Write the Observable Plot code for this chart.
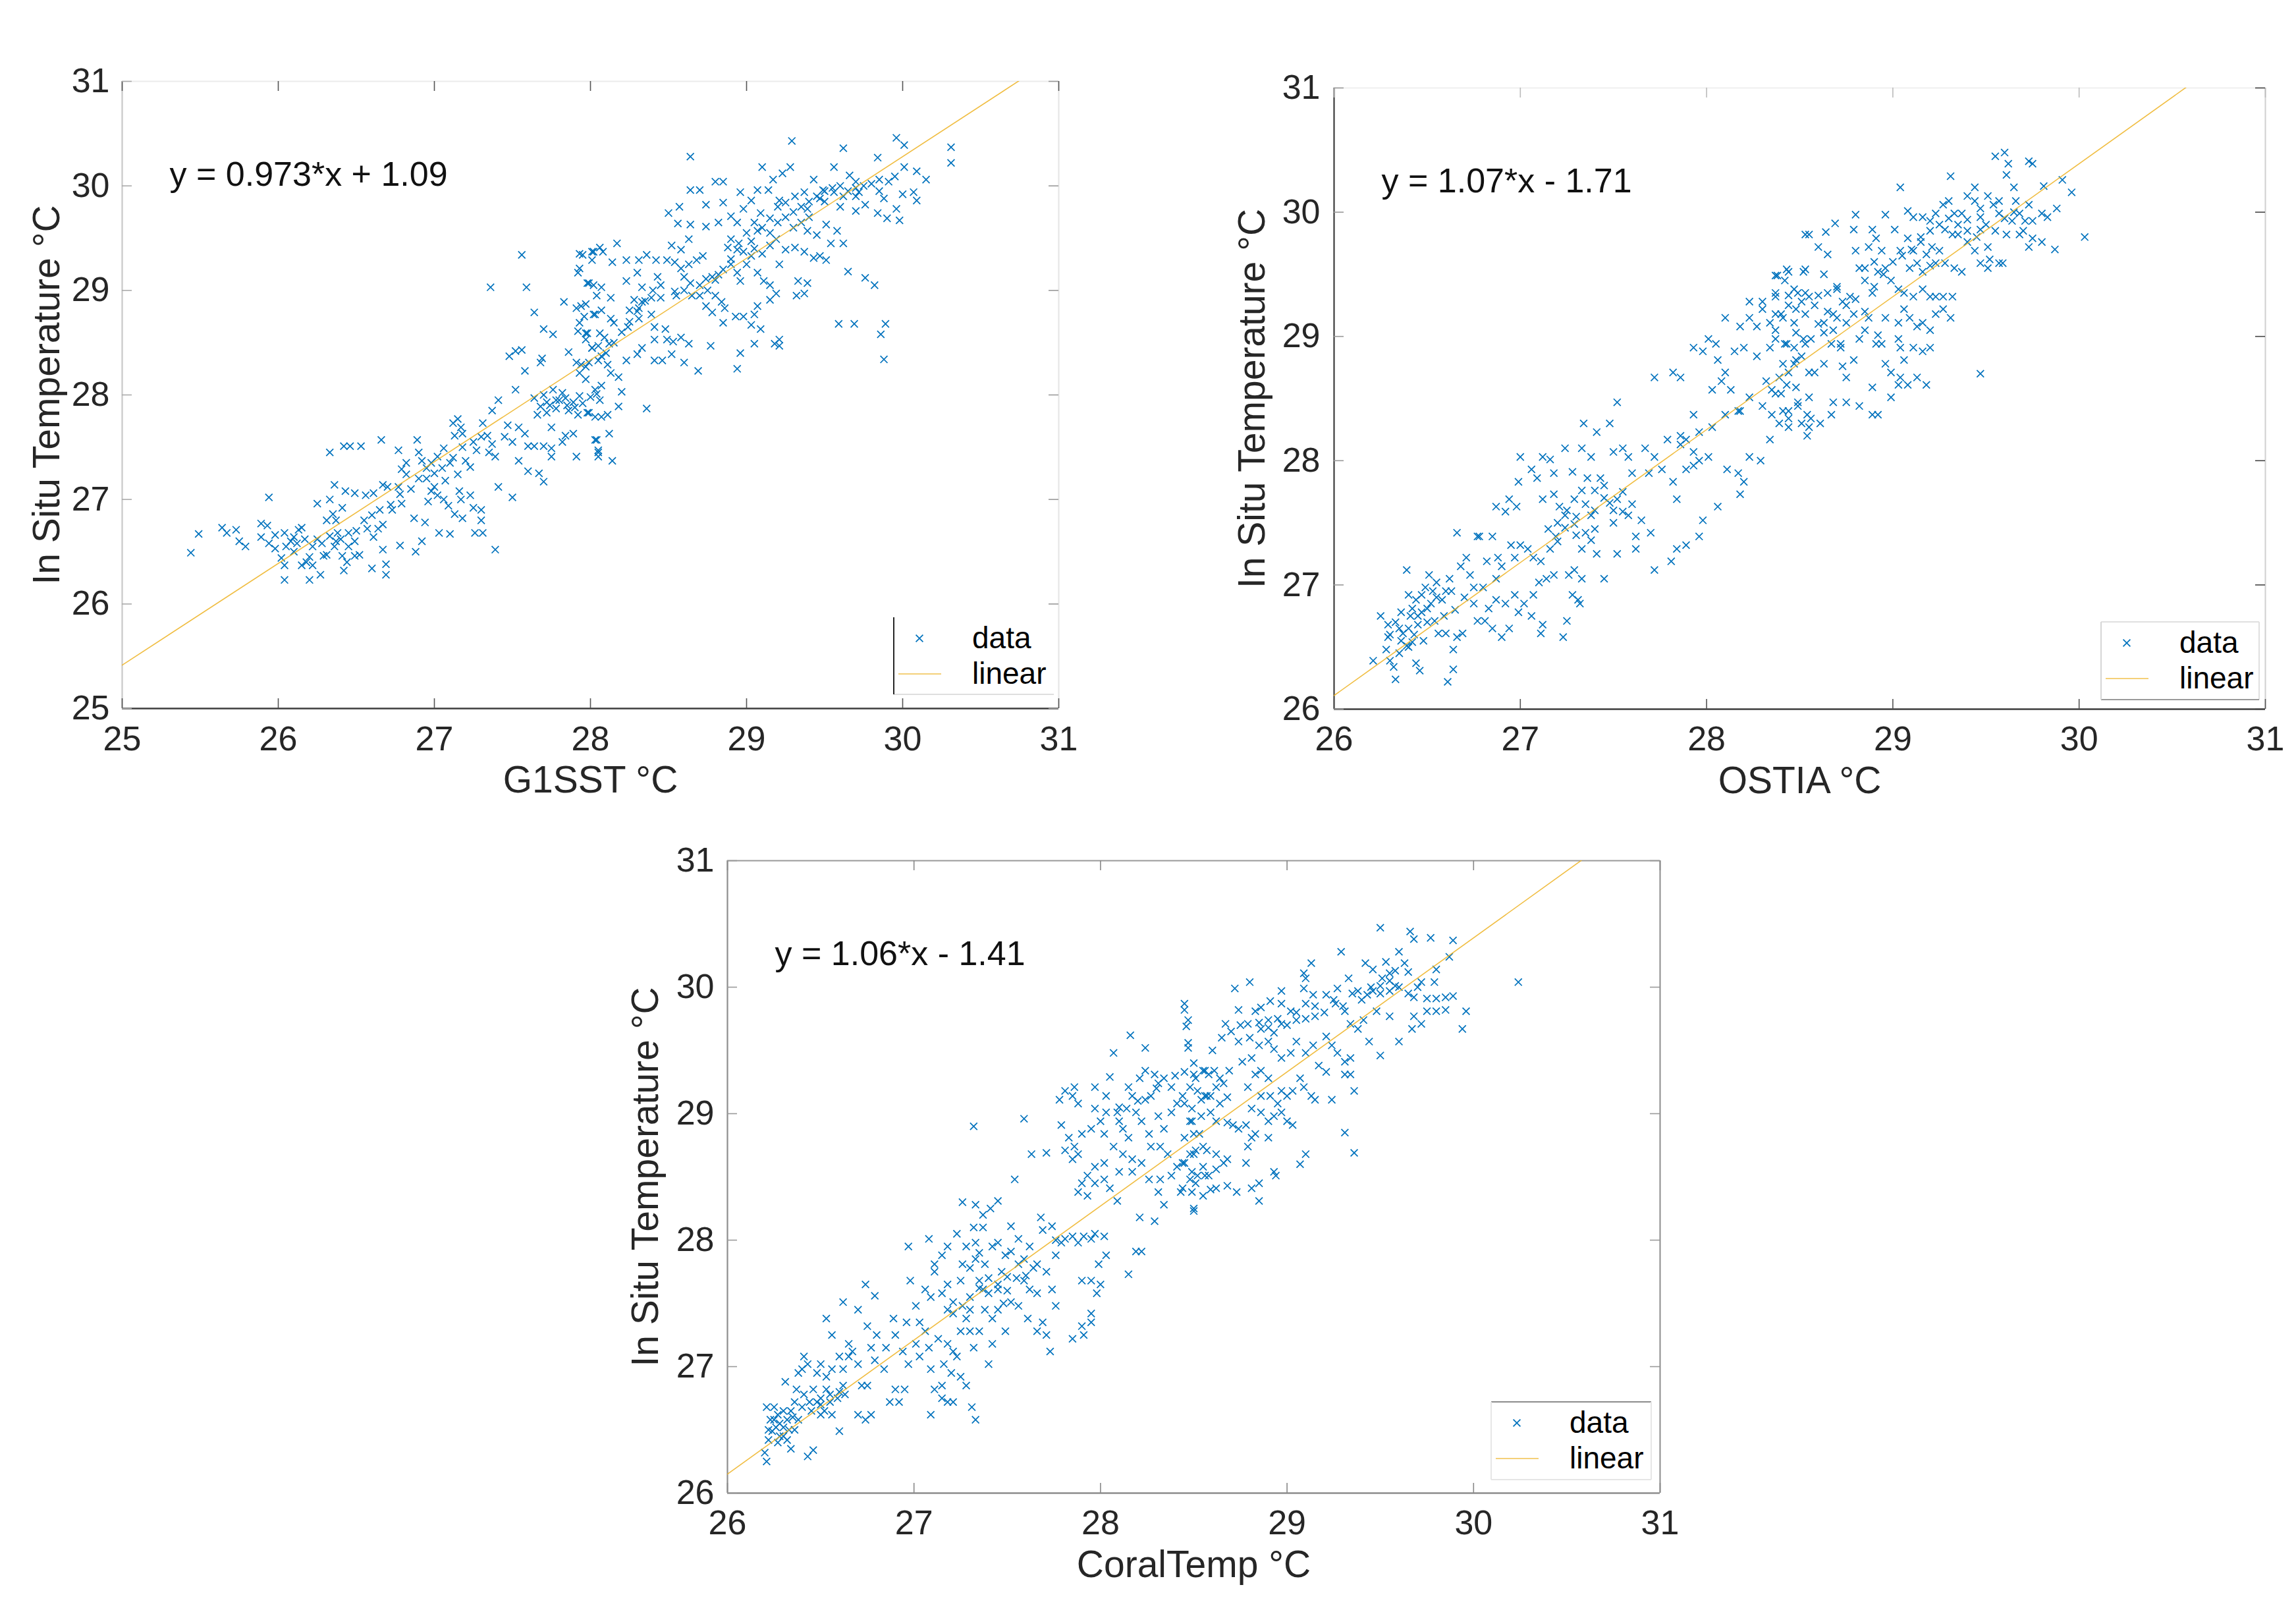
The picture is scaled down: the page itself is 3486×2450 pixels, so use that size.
<!DOCTYPE html>
<html><head><meta charset="utf-8">
<script src="https://cdn.jsdelivr.net/npm/d3@7"></script>
<script src="https://cdn.jsdelivr.net/npm/@observablehq/plot@0.6"></script>
<style>
html,body{margin:0;padding:0;background:#fff;}
#root{position:relative;width:3486px;height:2450px;overflow:hidden;background:#fff;}
.panel{position:absolute;}
.panel svg{max-width:none;display:block;}
</style></head><body><div id="root"></div>
<script>
// ---------------- data ----------------
const g1sstPoints = [
[25.44,26.49],[25.49,26.67],[25.64,26.73],[25.67,26.68],[25.73,26.71],[25.75,26.60],[25.79,26.55],[25.94,27.02],[25.89,26.77],[25.93,26.75],[25.89,26.64],[25.94,26.58],[25.98,26.66],[25.98,26.53],[26.04,26.68],[26.08,26.60],[26.10,26.64],[26.13,26.71],[26.15,26.73],[26.02,26.44],[26.04,26.37],[26.04,26.23],[26.15,26.37],[26.18,26.40],[26.22,26.37],[26.20,26.45],[26.20,26.23],[26.27,26.28],[26.29,26.46],[26.31,26.47],[26.25,26.96],[26.33,27.00],[26.36,27.14],[26.35,26.86],[26.31,26.80],[26.37,26.80],[26.41,26.92],[26.38,26.68],[26.37,26.60],[26.45,26.68],[26.49,26.60],[26.41,26.46],[26.44,26.40],[26.42,26.32],[26.49,26.46],[26.52,26.47],[26.33,27.45],[26.42,27.51],[26.46,27.51],[26.53,27.51],[26.66,27.57],[26.43,27.08],[26.49,27.06],[26.56,27.04],[26.61,27.06],[26.57,26.72],[26.64,26.72],[26.61,26.64],[26.67,26.76],[26.67,26.52],[26.60,26.34],[26.69,26.38],[26.69,26.28],[26.67,27.14],[26.70,27.12],[26.73,26.90],[26.77,27.12],[26.79,26.96],[26.78,26.56],[26.88,26.50],[26.92,26.60],[26.87,26.82],[26.94,26.78],[27.03,26.68],[27.10,26.67],[26.77,27.47],[26.82,27.35],[26.79,27.29],[26.82,27.24],[26.89,27.57],[26.90,27.45],[26.92,27.37],[26.95,27.20],[26.98,27.35],[26.98,27.08],[27.02,27.41],[27.06,27.49],[27.02,27.04],[27.06,27.00],[27.09,26.94],[27.07,27.18],[27.12,27.73],[27.15,27.77],[27.17,27.69],[27.13,27.61],[27.18,27.63],[27.15,27.24],[27.16,27.08],[27.17,27.00],[27.13,26.86],[27.18,26.82],[27.23,27.04],[27.25,26.92],[27.30,26.90],[27.30,26.80],[27.26,26.68],[27.31,26.68],[27.39,26.52],[27.20,27.37],[27.23,27.31],[27.27,27.47],[27.31,27.73],[27.34,27.61],[27.37,27.53],[27.39,27.41],[27.41,27.12],[27.50,27.02],
[27.36,29.03],[27.56,29.34],[27.59,29.03],[27.64,28.79],[27.70,28.63],[27.76,28.58],[27.48,28.37],[27.52,28.42],[27.56,28.43],[27.58,28.23],[27.69,28.35],[27.68,28.31],[27.52,28.05],[27.37,27.85],[27.41,27.95],[27.47,27.71],[27.54,27.69],[27.58,27.63],[27.60,27.51],[27.54,27.37],[27.60,27.27],[27.67,27.25],[27.70,27.17],[27.64,27.51],[27.70,27.51],[27.75,27.49],[27.75,27.41],
[27.64,27.97],[27.68,27.89],[27.72,27.93],[27.76,28.05],[27.80,27.95],[27.84,27.97],[27.89,27.93],[27.93,27.99],[27.66,27.81],[27.72,27.83],[27.78,27.87],[27.86,27.85],[27.92,27.81],[27.75,27.69],[27.84,27.61],[27.89,27.63],[27.82,27.55],[27.91,27.41],
[27.83,28.89],[27.91,28.83],[27.97,28.87],[27.93,29.21],[27.95,29.34],[28.02,29.37],[27.99,29.07],[28.03,28.77],[27.93,28.69],[27.98,28.59],[27.97,28.53],[27.86,28.41],[27.91,28.31],[27.93,28.21],[27.97,28.27],[28.01,28.45],[27.99,27.83],[28.04,27.57],[28.05,27.45],
[27.93,29.35],[28.01,29.37],[28.06,29.41],[28.08,29.37],[28.17,29.45],[28.01,29.29],[27.92,29.17],[27.98,29.07],[28.02,29.05],[28.07,29.03],[27.94,28.85],[28.04,28.95],[28.13,28.93],[27.96,28.75],[28.02,28.77],[28.07,28.81],[28.13,28.73],[28.15,28.69],[27.92,28.61],[27.97,28.59],[28.06,28.59],[28.09,28.55],[28.12,28.49],[28.01,28.45],[28.05,28.47],[27.94,28.29],[27.99,28.31],[28.05,28.33],[28.07,28.37],[28.11,28.29],[28.13,28.21],[27.97,28.15],[28.03,28.05],[28.04,28.01],[28.07,28.09],[28.06,27.95],[27.98,27.83],[28.03,27.79],[28.07,27.79],[28.11,27.81],[28.03,27.57],[28.12,27.63],[28.05,27.47],[28.05,27.41],[28.14,27.37],[28.18,28.17],[28.20,28.03],[28.18,27.89],[28.36,27.87],
[28.14,29.27],[28.23,29.29],[28.31,29.29],[28.36,29.34],[28.42,29.29],[28.49,29.29],[28.23,29.09],[28.30,29.17],[28.33,29.03],[28.43,29.13],[28.25,28.81],[28.31,28.83],[28.28,28.91],[28.33,28.89],[28.39,28.93],[28.45,28.93],[28.54,28.99],[28.39,28.77],[28.31,28.73],[28.24,28.65],[28.41,28.65],[28.48,28.63],[28.49,28.53],[28.53,28.51],[28.58,28.55],[28.63,28.49],[28.41,28.53],[28.33,28.45],[28.30,28.39],[28.23,28.33],[28.41,28.33],[28.46,28.33],[28.52,28.39],[28.60,28.31],[28.69,28.23],[28.77,28.47],[28.64,30.28],[28.64,29.96],[28.70,29.96],[28.74,29.82],[28.80,30.04],[28.85,30.04],[28.50,29.74],[28.57,29.80],[28.56,29.64],[28.64,29.63],[28.74,29.61],[28.52,29.43],[28.58,29.39],[28.63,29.49],[28.54,29.27],[28.58,29.21],[28.63,29.25],[28.60,29.13],[28.64,29.07],[28.68,29.29],[28.72,29.33],[28.74,29.11],[28.78,29.13],[28.82,29.15],[28.80,28.95],[28.84,28.89],[28.86,28.83],[28.70,28.95],[28.74,28.85],[28.78,28.79],[28.85,28.69],[28.90,29.25],[28.94,29.17],[28.96,29.09],[28.88,29.41],[28.94,29.39],[28.96,29.94],[28.85,29.84],[28.90,29.71],[28.94,29.65],[28.82,29.65],[28.90,29.49],
[29.10,30.18],[29.17,30.06],[29.23,30.12],[29.28,30.18],[29.29,30.43],[29.07,29.96],[29.14,29.96],[28.98,29.78],[29.03,29.86],[29.09,29.74],[29.15,29.69],[29.21,29.86],[29.25,29.84],[29.31,29.90],[29.37,29.94],[29.43,30.06],[29.49,29.96],[29.56,30.18],[29.62,30.36],[29.66,30.10],[29.70,30.04],[29.72,29.94],[29.76,29.82],[29.70,29.76],[29.62,29.90],[29.56,29.94],[29.47,29.88],[29.39,29.78],[29.35,29.65],[29.39,29.57],[29.45,29.53],[29.51,29.63],[29.58,29.57],[29.54,29.45],[29.62,29.45],[29.47,29.33],[29.43,29.31],[29.37,29.37],[29.31,29.41],[29.25,29.39],[29.19,29.49],[29.15,29.43],[29.07,29.57],[29.03,29.47],[28.98,29.37],[29.03,29.33],[29.07,29.17],[29.11,29.09],[29.15,29.05],[29.21,29.25],[29.19,28.97],[29.15,28.91],[29.07,28.85],[29.05,28.77],[29.03,28.67],[29.09,28.63],[28.98,28.75],[28.93,28.75],[28.96,28.40],[28.94,28.25],[29.05,28.49],[29.18,28.49],[29.21,28.53],[29.21,28.47],[29.33,29.09],[29.39,29.07],[29.37,28.97],[29.32,28.95],[29.51,29.29],[29.65,29.18],[29.76,29.12],[29.82,29.05],[29.59,28.68],[29.69,28.68],[29.89,28.68],[29.86,28.58],[29.88,28.34],[29.84,30.27],[29.96,30.46],[30.01,30.39],[30.01,30.18],[30.09,30.14],[30.15,30.06],[29.85,30.06],[29.91,30.04],[29.95,30.09],[29.88,29.88],[30.00,29.92],[30.07,29.94],[30.09,29.86],[29.84,29.74],[29.90,29.69],[29.96,29.78],[29.98,29.67],[30.31,30.37],[30.31,30.22],
[26.05,26.55],[26.10,26.50],[26.12,26.58],[26.17,26.62],[26.22,26.55],[26.25,26.62],[26.28,26.58],[26.33,26.65],[26.36,26.55],[26.40,26.62],[26.45,26.55],[26.50,26.70],[26.55,26.80],[26.60,26.85],[26.65,26.90],[26.72,26.95],[26.78,27.05],[26.85,27.10],[26.90,27.20],[26.95,27.30],[27.00,27.25],[27.05,27.30],[27.10,27.35],[27.00,27.12],[26.96,26.98],[27.12,27.40],[27.18,27.50],[27.25,27.55],[27.30,27.60],[27.35,27.45],[27.45,27.60],[27.50,27.55],
[27.70,28.00],[27.74,27.90],[27.78,27.95],[27.82,28.02],[27.85,27.90],[27.90,27.88],[27.95,27.92],[28.00,27.98],[28.10,28.40],[28.15,28.50],[28.20,28.60],[28.25,28.70],[28.30,28.80],[28.35,28.90],[28.40,29.00],[28.45,29.05],
[28.55,28.95],[28.60,29.00],[28.65,28.95],[28.70,29.05],[28.75,29.00],[28.80,29.10],[28.85,29.20],[28.90,29.30],[28.95,29.45],[29.00,29.55],[29.05,29.65],[29.10,29.60],[29.15,29.55],[29.20,29.65],[29.25,29.70],[29.30,29.75],[29.35,29.80],[29.40,29.85],[29.45,29.90],[29.50,29.95],[29.55,29.98],[29.60,30.00],[29.65,29.95],[29.70,29.98],[29.75,30.00],[29.80,30.02],[29.85,29.95],[29.50,29.85],[29.30,29.60],[29.20,29.80],[29.05,29.40],[29.00,29.25],[29.10,29.35],[29.40,29.70],[29.60,29.80],[29.70,29.90]
];

const ostiaPoints = [
[26.21,26.39],[26.25,26.75],[26.29,26.58],[26.28,26.48],[26.30,26.39],[26.32,26.34],[26.33,26.24],[26.29,26.68],[26.35,26.65],[26.37,26.61],[26.39,26.51],[26.36,26.78],[26.41,26.75],[26.42,26.81],[26.44,26.88],[26.47,26.92],[26.47,26.78],[26.45,26.68],[26.42,26.54],[26.44,26.37],[26.46,26.31],[26.39,27.12],[26.40,26.92],[26.49,26.98],[26.51,27.08],[26.53,26.95],[26.50,26.81],[26.55,27.02],[26.58,26.88],[26.59,26.75],[26.54,26.71],[26.56,26.61],[26.60,26.61],[26.61,26.22],[26.64,26.32],[26.64,26.48],[26.66,26.58],[26.69,26.61],[26.62,27.05],[26.63,26.95],[26.66,27.42],[26.68,27.15],[26.71,27.22],[26.73,27.08],[26.75,26.85],[26.77,26.71],[26.81,26.71],[26.83,26.81],[26.85,26.65],[26.87,26.88],[26.78,27.39],[26.75,26.98],[26.80,26.98],[26.82,27.19],[26.87,27.05],[26.90,27.15],[26.94,26.65],[26.90,26.58],[26.92,26.85],[26.97,26.92],[26.99,26.78],[27.02,26.85],[27.06,26.75],[27.11,26.61],[27.12,26.68],[27.07,26.92],[27.10,27.02],[27.14,27.05],[27.18,27.08],[27.23,26.58],[27.25,26.71],[27.28,26.92],[27.31,26.88],[27.32,26.85],[27.26,27.08],[27.29,27.12],[27.33,27.05],[27.04,27.29],[27.07,27.22],[27.11,27.19],[27.16,27.29],[27.19,27.39],[27.24,27.46],[27.29,27.49],[27.35,27.42],[27.38,27.36],[26.95,27.32],[27.00,27.32],[26.97,27.22],[26.88,27.22],[26.87,27.63],[26.92,27.59],[26.94,27.69],[26.98,27.63],[26.77,27.39],[26.85,27.39],
[27.00,28.03],[27.06,27.93],[27.09,27.86],[26.99,27.83],[27.12,28.03],[27.16,28.01],[27.18,27.90],[27.24,28.10],[27.28,27.91],[27.33,28.10],[27.34,28.30],[27.38,28.03],[27.41,28.23],[27.43,27.86],[27.48,28.30],[27.50,28.07],[27.52,28.47],[27.55,28.10],[27.58,28.03],[27.60,27.90],[27.67,28.10],[27.69,27.90],[27.72,28.03],[27.76,27.93],[27.79,28.17],[27.82,27.83],[27.84,27.69],[27.86,28.13],[27.89,27.93],[27.93,27.96],[27.96,28.00],[27.12,27.69],[27.18,27.73],[27.21,27.63],[27.24,27.56],[27.29,27.69],[27.33,27.76],[27.36,27.86],[27.40,27.76],[27.45,27.80],[27.48,27.66],[27.52,27.69],[27.55,27.59],[27.58,27.56],[27.62,27.39],[27.65,27.52],[27.70,27.42],[27.72,27.12],[27.81,27.19],[27.84,27.29],[27.89,27.32],[27.96,27.39],[27.98,27.52],[28.06,27.63],[27.62,27.29],[27.52,27.25],[27.45,27.05],[27.41,27.25],[27.38,27.56],[27.33,27.29],
[27.72,28.67],[27.82,28.71],[27.86,28.67],[27.93,28.91],[27.98,28.88],[28.01,28.98],[28.05,28.94],[28.10,29.15],[28.06,28.81],[28.10,28.71],[28.15,28.88],[28.03,28.57],[28.08,28.64],[28.13,28.57],[28.17,28.40],[28.10,28.37],[28.03,28.27],[27.93,28.37],[27.96,28.23],[27.89,28.17],[27.86,28.20],[27.93,28.07],[28.01,28.03],[28.11,27.93],[28.17,27.90],[28.20,27.83],[28.18,27.73],[28.23,28.03],[28.29,28.00],[28.34,28.17],[28.39,28.30],[28.18,28.40],[28.23,28.51],[28.30,28.44],[28.32,28.64],[28.35,28.57],[28.40,28.54],[28.44,28.40],[28.35,28.37],[28.39,28.67],[28.44,28.71],[28.47,28.78],[28.51,28.84],[28.18,29.08],[28.23,29.15],[28.27,29.08],[28.30,29.22],[28.34,29.11],[28.37,29.05],[28.40,29.18],[28.44,29.25],[28.47,29.11],[28.51,29.28],[28.53,29.35],[28.20,28.91],[28.27,28.84],[28.34,28.91],[28.42,28.94],[28.47,28.91],[28.52,28.98],[28.23,29.28],[28.30,29.28],[28.37,29.35],[28.42,29.45],[28.47,29.38],[28.38,29.49],[28.44,29.52],[28.53,29.82],[28.52,29.52],[28.49,28.47],[28.54,28.37],[28.51,28.30],[28.54,28.20],[28.44,28.27],
[28.37,29.49],[28.43,29.54],[28.53,29.54],[28.55,29.82],[28.60,29.72],[28.64,29.84],[28.69,29.91],[28.65,29.66],[28.63,29.50],[28.37,29.32],[28.44,29.33],[28.49,29.35],[28.55,29.32],[28.60,29.33],[28.65,29.35],[28.70,29.38],[28.37,29.18],[28.41,29.15],[28.48,29.22],[28.53,29.18],[28.58,29.25],[28.63,29.11],[28.68,29.18],[28.73,29.28],[28.77,29.32],[28.37,28.98],[28.43,28.94],[28.48,29.03],[28.53,28.94],[28.56,28.98],[28.63,29.03],[28.68,29.05],[28.72,28.94],[28.75,29.11],[28.79,29.18],[28.41,28.78],[28.48,28.81],[28.55,28.71],[28.58,28.71],[28.63,28.78],[28.67,28.94],[28.72,28.91],[28.73,28.76],[28.75,28.67],[28.79,28.81],[28.82,28.98],[28.85,29.05],[28.87,29.15],[28.91,28.94],[28.92,29.01],[28.94,28.94],[28.96,29.15],[28.89,29.35],[28.85,29.45],[28.82,29.55],[28.80,29.69],[28.87,29.72],[28.91,29.79],[28.94,29.69],[28.96,29.55],[28.99,29.45],[29.03,29.38],[28.92,29.52],[28.79,29.86],[28.80,29.98],[28.89,29.86],[28.96,29.98],[29.01,29.86],[29.04,29.69],[28.37,28.54],[28.43,28.61],[28.48,28.59],[28.49,28.44],[28.55,28.51],[28.56,28.34],[28.61,28.30],[28.55,28.27],[28.67,28.37],[28.68,28.47],[28.75,28.47],[28.82,28.44],[28.89,28.37],[28.92,28.37],[28.89,28.59],[28.96,28.78],[28.99,28.71],[28.99,28.51],[29.03,28.61],[29.04,28.67],[29.08,28.61],[29.13,28.67],[29.18,28.61],[28.44,28.34],[28.41,28.40],
[29.04,30.20],[29.08,30.01],[29.11,29.96],[29.16,29.96],[29.20,29.93],[29.23,29.99],[29.27,30.06],[29.30,30.09],[29.33,29.99],[29.37,29.99],[29.40,29.94],[29.44,30.20],[29.47,30.03],[29.51,30.13],[29.54,30.06],[29.57,29.99],[29.31,30.29],[29.40,30.13],[29.08,29.79],[29.11,29.69],[29.15,29.76],[29.18,29.66],[29.21,29.72],[29.25,29.69],[29.28,29.86],[29.32,29.82],[29.35,29.82],[29.40,29.76],[29.44,29.69],[29.47,29.86],[29.51,29.72],[29.09,29.55],[29.13,29.59],[29.16,29.52],[29.20,29.57],[29.23,29.59],[29.28,29.59],[29.33,29.55],[29.37,29.52],[29.47,29.59],[29.52,29.62],[29.57,29.59],[29.06,29.35],[29.11,29.32],[29.16,29.38],[29.20,29.32],[29.23,29.32],[29.27,29.32],[29.32,29.32],[29.06,29.22],[29.09,29.15],[29.13,29.08],[29.16,29.11],[29.20,29.05],[29.23,29.18],[29.27,29.22],[29.31,29.15],[29.20,28.91],[29.11,28.91],[29.16,28.88],[29.03,29.11],[29.03,28.98],[29.04,28.91],[29.06,28.81],[29.47,28.70],
[29.55,30.45],[29.60,30.48],[29.62,30.39],[29.61,30.30],[29.65,30.20],[29.73,30.41],[29.75,30.39],[29.81,30.21],[29.91,30.26],[29.96,30.16],[29.88,30.03],[29.83,29.96],[29.80,29.99],[29.73,30.06],[29.68,29.99],[29.64,29.93],[29.61,29.82],[29.68,29.82],[29.73,29.72],[29.75,29.79],[29.80,29.76],[29.87,29.70],[30.03,29.80],[29.59,29.59],[29.51,29.55],[29.44,30.09],[29.47,29.96],[29.57,30.09],[29.71,29.93],[29.66,30.09],[29.75,29.93],
[26.30,26.60],[26.33,26.70],[26.36,26.55],[26.40,26.65],[26.43,26.60],[26.45,26.75],[26.50,26.70],[26.52,26.85],[26.55,26.90],[26.60,26.95],[26.65,26.80],[26.70,26.90],[26.35,26.45],[26.40,26.50],[26.48,26.55],
[27.20,27.50],[27.25,27.60],[27.30,27.55],[27.35,27.65],[27.40,27.60],[27.45,27.70],[27.50,27.60],[27.55,27.75],[27.60,27.65],[27.30,27.40],[27.40,27.45],[27.50,27.50],[27.15,27.45],[27.20,27.35],
[28.60,29.10],[28.65,29.20],[28.70,29.15],[28.75,29.25],[28.80,29.30],[28.85,29.20],[28.90,29.40],[28.95,29.50],[29.00,29.60],[29.05,29.65],[29.10,29.70],[29.15,29.80],[29.20,29.85],[29.25,29.90],[29.30,29.95],[29.35,29.90],[29.40,29.85],[29.45,29.80],[29.50,29.90],[29.55,29.85],[29.60,29.95],[29.65,30.00],[29.70,29.85],[28.90,29.60],[28.70,29.40],[28.85,29.55]
];

const coralTempPoints = [
[26.21,26.25],[26.20,26.32],[26.22,26.42],[26.24,26.49],[26.23,26.58],[26.21,26.68],[26.25,26.68],[26.27,26.62],[26.26,26.52],[26.28,26.45],[26.30,26.52],[26.32,26.42],[26.34,26.35],[26.32,26.58],[26.34,26.65],[26.36,26.72],[26.38,26.58],[26.37,26.82],[26.38,26.95],[26.40,26.98],[26.43,27.02],[26.41,27.08],[26.31,26.88],[26.43,26.29],[26.46,26.34],[26.41,26.78],[26.44,26.72],[26.46,26.82],[26.48,26.72],[26.50,26.75],[26.53,26.82],[26.55,26.72],[26.50,26.62],[26.52,26.65],[26.56,26.62],[26.60,26.49],[26.59,26.75],[26.62,26.85],[26.48,26.95],[26.50,27.02],[26.53,26.92],[26.56,26.98],[26.56,27.25],[26.60,27.08],[26.62,26.98],[26.53,27.38],[26.62,27.51],[26.65,27.18],[26.65,27.08],[26.67,27.12],[26.70,27.02],[26.63,26.78],[26.70,26.62],[26.74,26.58],[26.72,26.85],[26.75,26.85],[26.77,26.62],[26.70,27.45],[26.75,27.32],[26.77,27.15],[26.79,27.05],[26.80,27.25],[26.74,27.65],[26.79,27.56],[26.84,26.98],[26.85,27.15],[26.89,27.38],[26.90,27.25],[26.90,26.82],[26.87,26.72],[26.92,26.72],[26.95,26.82],[26.97,27.02],[26.94,27.12],[26.96,27.35],[26.98,27.68],[27.01,27.48],[27.03,27.35],[27.01,27.18],[27.03,27.08],[27.06,27.28],[27.08,27.15],[27.09,26.98],[27.09,26.62],[27.11,26.82],[27.15,26.75],[27.18,26.72],[27.21,26.72],[27.15,26.85],[27.16,27.02],[27.20,26.95],[27.23,27.08],[27.13,27.22],[27.18,27.18],[27.21,27.12],[27.25,26.92],[27.28,26.85],[27.31,26.68],[27.33,26.58],[27.25,27.28],[27.30,27.28],[27.35,27.28],[27.42,27.18],[27.40,27.02],[26.97,27.95],[27.08,28.01],[27.11,27.81],[27.15,27.88],[27.18,27.95],[27.11,27.75],[27.06,27.61],[27.09,27.55],[27.15,27.58],[27.18,27.65],[27.21,27.51],[27.18,27.45],[27.21,27.42],[27.26,27.48],[27.28,27.38],[27.25,27.68],[27.26,27.81],[27.28,27.95],[27.23,28.05],[27.30,27.78],[27.33,27.85],[27.35,27.68],[27.37,27.61],[27.38,27.45],[27.42,27.38],[27.45,27.61],[27.47,27.75],[27.50,27.71],[27.52,27.51],[27.45,27.45],[27.49,27.28],[27.56,27.48],[27.61,27.38],[27.66,27.28],[27.69,27.35],[27.73,27.12],[27.71,27.25],[27.32,27.15],
[27.26,28.30],[27.33,28.28],[27.37,28.20],[27.41,28.25],[27.45,28.31],[27.32,28.10],[27.37,28.10],[27.33,27.98],[27.35,27.90],[27.38,27.81],[27.42,27.95],[27.45,27.98],[27.49,27.88],[27.52,27.91],[27.56,28.01],[27.52,28.11],[27.56,27.81],[27.59,27.85],[27.62,27.95],[27.64,27.78],[27.66,27.81],[27.71,27.75],[27.74,27.61],[27.76,27.48],[27.62,27.61],[27.66,27.58],[27.59,27.68],[27.54,28.48],[27.32,28.90],[27.59,28.96],[27.63,28.68],[27.71,28.69],[27.68,28.18],[27.69,28.08],[27.74,28.11],[27.76,28.00],[27.76,27.88],[27.79,27.98],[27.81,28.01],[27.85,28.03],[27.88,27.98],[27.91,28.03],[27.95,28.01],[27.97,28.05],[28.02,28.03],[27.90,27.68],[27.95,27.68],[27.99,27.81],[27.85,27.22],[27.90,27.32],[27.91,27.25],[27.95,27.35],[27.95,27.42],[27.98,27.58],[28.03,27.88],[28.00,27.65],
[27.78,29.11],[27.81,29.18],[27.86,29.21],[27.85,29.14],[27.88,29.08],[27.79,28.91],[27.83,28.81],[27.86,28.74],[27.88,28.68],[27.81,28.71],[27.85,28.64],[27.90,28.84],[27.95,28.88],[27.97,29.04],[28.00,28.94],[28.02,28.84],[27.97,29.21],[28.03,29.14],[28.05,29.29],[28.07,29.48],[28.03,29.01],[28.07,28.74],[28.02,28.61],[27.97,28.58],[27.93,28.51],[27.90,28.45],[27.88,28.38],[27.93,28.35],[27.97,28.45],[28.02,28.48],[28.05,28.41],[28.09,28.31],[28.10,28.54],[28.12,28.68],[28.15,28.81],[28.17,28.64],[28.12,28.88],[28.09,29.01],[28.10,28.94],[28.14,29.04],[28.17,29.14],[28.15,29.21],[28.21,29.28],[28.24,29.34],[28.29,29.31],[28.31,29.24],[28.34,29.28],[28.38,29.21],[28.19,29.01],[28.22,28.94],[28.26,28.84],[28.31,28.98],[28.34,28.88],[28.38,29.01],[28.41,29.08],[28.44,29.14],[28.48,29.21],[28.51,29.28],[28.55,29.34],[28.58,29.31],[28.17,28.54],[28.22,28.61],[28.26,28.48],[28.31,28.38],[28.34,28.28],[28.32,28.48],[28.38,28.51],[28.41,28.58],[28.44,28.61],[28.48,28.68],[28.51,28.71],[28.55,28.74],[28.44,28.41],[28.43,28.38],[28.48,28.48],[28.51,28.45],[28.55,28.35],[28.58,28.51],[28.21,28.18],[28.19,27.91],[28.22,27.91],[28.15,27.73],[28.29,28.15],[28.24,29.11],[28.27,29.14],[28.48,28.94],[28.53,28.84],[28.16,29.62],[28.24,29.52],[28.45,29.82],[28.46,29.69],[28.47,29.52],[28.27,28.74],[28.36,28.68],[28.32,28.74],[28.56,29.14],[28.50,28.25],[28.55,28.58],
[28.45,29.87],[28.47,29.74],[28.47,29.56],[28.45,29.33],[28.50,29.31],[28.56,29.34],[28.61,29.34],[28.64,29.28],[28.52,29.18],[28.57,29.14],[28.62,29.21],[28.66,29.24],[28.69,29.34],[28.45,29.08],[28.49,29.04],[28.54,29.11],[28.59,29.14],[28.64,29.08],[28.68,29.13],[28.49,28.94],[28.54,28.98],[28.59,29.01],[28.62,28.94],[28.68,28.93],[28.71,28.91],[28.74,28.88],[28.78,28.91],[28.45,28.81],[28.50,28.84],[28.45,28.61],[28.49,28.54],[28.52,28.51],[28.56,28.51],[28.62,28.56],[28.66,28.61],[28.50,28.68],[28.57,28.71],[28.62,28.68],[28.68,28.64],[28.49,28.38],[28.59,28.40],[28.62,28.41],[28.68,28.43],[28.73,28.38],[28.50,28.23],[28.79,28.74],[28.81,28.81],[28.78,28.61],[28.81,28.41],[28.85,28.45],[28.85,28.31],[28.72,29.99],[28.80,30.04],[28.74,29.82],[28.67,29.71],[28.74,29.57],[28.76,29.41],[28.81,29.44],[28.85,29.54],[28.86,29.67],[28.79,29.71],[28.83,29.81],[28.86,29.84],[28.90,29.74],[28.93,29.64],[28.97,29.71],[28.90,29.57],[28.93,29.51],[28.97,29.44],[28.86,29.34],[28.90,29.28],[28.83,29.31],[28.79,29.21],[28.86,29.14],[28.91,29.14],[28.81,29.04],[28.86,29.01],[28.90,28.94],[28.93,28.98],[28.97,29.01],[29.00,28.94],[29.03,28.91],[28.83,28.84],[28.90,28.81],[28.95,29.08],[28.97,29.18],[29.00,29.14],[28.93,28.54],[28.94,28.51],[29.07,28.60],[29.10,28.68],
[28.91,29.89],[28.97,29.97],[28.97,29.87],[29.02,29.81],[29.05,29.74],[29.10,29.87],[29.09,29.99],[29.10,30.07],[29.13,30.19],[29.09,30.11],[29.14,29.94],[29.15,29.77],[29.21,29.94],[29.26,29.87],[29.27,29.99],[29.29,30.28],[29.33,30.07],[29.31,29.81],[29.34,29.71],[29.38,29.67],[29.41,29.74],[29.44,29.57],[29.38,29.97],[29.43,29.94],[29.46,29.97],[29.50,30.01],[29.51,30.07],[29.55,30.11],[29.55,29.97],[29.58,30.01],[29.42,30.19],[29.46,30.14],[29.53,30.20],[29.58,30.13],[29.48,29.81],[29.55,29.77],[29.60,29.57],[29.50,29.46],[29.21,29.61],[29.24,29.54],[29.27,29.48],[29.31,29.41],[29.34,29.44],[29.10,29.48],[29.14,29.54],[29.17,29.38],[29.21,29.33],[29.07,29.28],[29.09,29.21],[29.13,29.14],[29.15,29.11],[29.03,29.18],[29.24,29.11],[29.31,29.31],[29.34,29.31],[29.36,29.18],[29.31,28.85],[29.36,28.69],[29.02,29.48],[29.05,29.57],
[29.50,30.47],[29.66,30.44],[29.68,30.38],[29.77,30.39],[29.89,30.37],[29.60,30.28],[29.63,30.19],[29.65,30.12],[29.72,30.04],[29.80,30.14],[29.79,30.04],[29.87,30.24],[29.68,29.92],[29.75,29.91],[29.80,29.91],[29.85,29.92],[29.89,29.93],[29.68,29.77],[29.75,29.81],[29.80,29.81],[29.85,29.82],[29.67,29.67],[29.72,29.71],[29.96,29.81],[29.94,29.67],[30.24,30.04],
[26.22,26.50],[26.25,26.58],[26.28,26.55],[26.30,26.65],[26.33,26.50],[26.35,26.60],[26.40,26.68],[26.45,26.65],[26.50,26.70],[26.55,26.78],[26.60,26.80],[26.27,26.40],[26.30,26.45],[26.36,26.50],
[27.30,27.55],[27.35,27.62],[27.40,27.58],[27.45,27.65],[27.50,27.60],[27.55,27.70],[27.60,27.72],[27.40,27.70],[27.48,27.50],[27.30,27.45],
[28.60,29.50],[28.65,29.60],[28.70,29.65],[28.75,29.70],[28.80,29.60],[28.85,29.72],[28.90,29.68],[28.95,29.75],[29.00,29.70],[29.05,29.80],[29.10,29.75],[29.15,29.85],[29.20,29.80],[29.25,29.90],[29.30,29.85],[29.35,29.95],[29.40,29.90],[29.45,30.00],[29.50,29.95],[29.55,30.05],[29.60,30.00],[29.65,29.95],[29.70,30.00],[28.40,29.30],[28.50,29.40],[28.30,29.20],[28.20,29.10],[28.10,29.05]
];

const ticksG1 = [25, 26, 27, 28, 29, 30, 31];
const ticksOther = [26, 27, 28, 29, 30, 31];
const slopes = [0.973, 1.07, 1.06];
const intercepts = [1.09, -1.71, -1.41];
const equations = ["y = 0.973*x + 1.09", "y = 1.07*x - 1.71", "y = 1.06*x - 1.41"];
const xLabels = ["G1SST °C", "OSTIA °C", "CoralTemp °C"];
const yLabel = "In Situ Temperature °C";
const legendLabels = ["data", "linear"];

// ---------------- layout / style ----------------
const FONT = "'Liberation Sans', Arial, Helvetica, sans-serif";
const BLUE = "#0072BD", GOLD = "#EDB120", INK = "#262626";

const panels = [
  {points: g1sstPoints, ticks: ticksG1, left: 0, top: 0, width: 1680, height: 1260,
   mt: 123, mr: 73, mb: 185, ml: 185, yLabelDx: -114, yPad: 19, xPad: 27,
   sides: {bottom: "#3c3c3c", left: "#c8c8c8", top: "#ececec", right: "#e4e4e4"},
   tickCol: {bottom: "#555", top: "#555", left: "#aaa", right: "#999"},
   legend: {x: 1357, y: 937, w: 243, h: 117, b: {left: INK, bottom: "#dedede", top: null, right: null}}},
  {points: ostiaPoints, ticks: ticksOther, left: 1740, top: 0, width: 1746, height: 1260,
   mt: 133, mr: 47, mb: 184, ml: 285, yLabelDx: -124, yPad: 21, xPad: 26,
   sides: {bottom: "#3c3c3c", left: "#3c3c3c", top: "#f0f0f0", right: "#d0d0d0"},
   tickCol: {bottom: "#555", top: "#bbb", left: "#999", right: "#444"},
   legend: {x: 1450, y: 944, w: 240, h: 118, b: {left: "#d6d6d6", bottom: "#9a9a9a", top: "#e0e0e0", right: "#e0e0e0"}}},
  {points: coralTempPoints, ticks: ticksOther, left: 850, top: 1240, width: 1800, height: 1190,
   mt: 66, mr: 130, mb: 164, ml: 254, yLabelDx: -124, yPad: 20, xPad: 26,
   sides: {bottom: "#8c8c8c", left: "#8c8c8c", top: "#9a9a9a", right: "#8c8c8c"},
   tickCol: {bottom: "#888", top: "#888", left: "#999", right: "#999"},
   legend: {x: 1414, y: 888, w: 243, h: 118, b: {left: "#e6e6e6", bottom: "#e6e6e6", top: "#8c8c8c", right: "#e6e6e6"}}}
];

const root = document.getElementById("root");

panels.forEach((p, i) => {
  const fw = p.width - p.ml - p.mr;
  const fh = p.height - p.mt - p.mb;
  const d0 = p.ticks[0], d1 = p.ticks[p.ticks.length - 1];
  const fit = [[d0, slopes[i] * d0 + intercepts[i]], [d1, slopes[i] * d1 + intercepts[i]]];
  const T = 15;
  const chart = Plot.plot({
    width: p.width, height: p.height,
    marginTop: p.mt, marginRight: p.mr, marginBottom: p.mb, marginLeft: p.ml,
    style: {fontFamily: FONT, fontSize: "52px", color: INK, background: "transparent", overflow: "visible"},
    x: {domain: [d0, d1], ticks: p.ticks, tickSize: 0, tickPadding: p.xPad, label: null, tickFormat: d => String(d)},
    y: {domain: [d0, d1], ticks: p.ticks, tickSize: 0, tickPadding: p.yPad, label: null, tickFormat: d => String(d)},
    marks: [
      Plot.ruleY([d1], {stroke: p.sides.top, strokeWidth: 2}),
      Plot.ruleX([d1], {stroke: p.sides.right, strokeWidth: 2}),
      Plot.ruleX([d0], {stroke: p.sides.left, strokeWidth: 2.2}),
      Plot.ruleY([d0], {stroke: p.sides.bottom, strokeWidth: 2.4}),
      Plot.tickX(p.ticks, {x: d => d, stroke: p.tickCol.bottom, strokeWidth: 1.6, insetTop: fh - T}),
      Plot.tickX(p.ticks, {x: d => d, stroke: p.tickCol.top, strokeWidth: 1.6, insetBottom: fh - T}),
      Plot.tickY(p.ticks, {y: d => d, stroke: p.tickCol.left, strokeWidth: 1.6, insetRight: fw - T}),
      Plot.tickY(p.ticks, {y: d => d, stroke: p.tickCol.right, strokeWidth: 1.6, insetLeft: fw - T}),
      Plot.dot(p.points, {x: d => d[0], y: d => d[1], symbol: "times", r: 5, stroke: BLUE, strokeWidth: 1.7}),
      Plot.line(fit, {x: d => d[0], y: d => d[1], stroke: GOLD, strokeWidth: 1.6, strokeOpacity: 0.85, clip: true}),
      Plot.text([equations[i]], {text: d => d, frameAnchor: "top-left", dx: 72, dy: 158, textAnchor: "start", lineAnchor: "bottom", fontSize: 52, fill: "#111"}),
      Plot.text([xLabels[i]], {text: d => d, frameAnchor: "bottom", dy: 87, textAnchor: "middle", lineAnchor: "top", fontSize: 57, fill: INK}),
      Plot.text([yLabel], {text: d => d, frameAnchor: "left", dx: p.yLabelDx, rotate: -90, textAnchor: "middle", lineAnchor: "middle", fontSize: 57, fill: INK})
    ]
  });

  // legend box (layout decoration)
  const svg = d3.select(chart);
  const L = p.legend;
  const g = svg.append("g").attr("class", "legend").attr("text-anchor", "start");
  g.append("rect").attr("x", L.x).attr("y", L.y).attr("width", L.w).attr("height", L.h).attr("fill", "white");
  const edge = (x1, y1, x2, y2, c, w) => { if (c) g.append("line").attr("x1", x1).attr("y1", y1).attr("x2", x2).attr("y2", y2).attr("stroke", c).attr("stroke-width", w); };
  edge(L.x, L.y, L.x + L.w, L.y, L.b.top, 2);
  edge(L.x + L.w, L.y, L.x + L.w, L.y + L.h, L.b.right, 2);
  edge(L.x, L.y + L.h, L.x + L.w, L.y + L.h, L.b.bottom, 2);
  edge(L.x, L.y, L.x, L.y + L.h, L.b.left, 2);
  g.append("path").attr("d", d3.symbol(d3.symbolTimes, 25 * Math.PI)())
    .attr("transform", `translate(${L.x + 39},${L.y + 32})`)
    .attr("fill", "none").attr("stroke", BLUE).attr("stroke-width", 1.7);
  g.append("line").attr("x1", L.x + 7).attr("x2", L.x + 72).attr("y1", L.y + 86).attr("y2", L.y + 86)
    .attr("stroke", GOLD).attr("stroke-width", 2).attr("stroke-opacity", 0.6);
  g.append("text").attr("x", L.x + 119).attr("y", L.y + 47).attr("font-size", 46).attr("text-anchor", "start").attr("fill", "#000").text(legendLabels[0]);
  g.append("text").attr("x", L.x + 119).attr("y", L.y + 101).attr("font-size", 46).attr("text-anchor", "start").attr("fill", "#000").text(legendLabels[1]);

  const holder = document.createElement("div");
  holder.className = "panel";
  holder.style.left = p.left + "px";
  holder.style.top = p.top + "px";
  holder.appendChild(chart);
  root.appendChild(holder);
});
</script>
</body></html>
